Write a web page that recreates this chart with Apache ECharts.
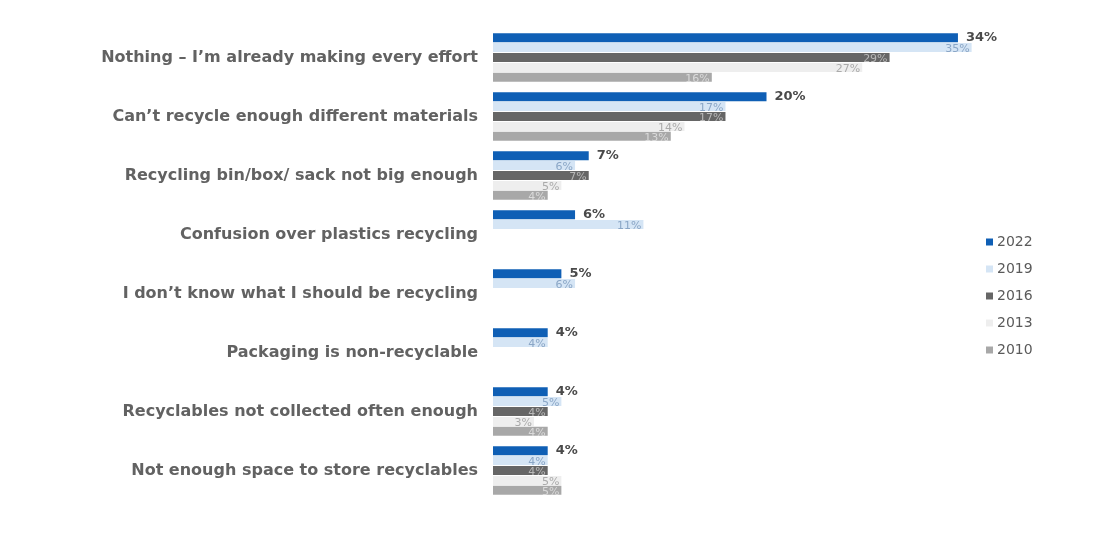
<!DOCTYPE html>
<html>
<head>
<meta charset="utf-8">
<script src="https://cdn.jsdelivr.net/npm/echarts@6/dist/echarts.min.js"></script>
<style>
html,body{margin:0;padding:0;background:#fff;}
#chart{width:1109px;height:540px;}
</style>
</head>
<body>
<div id="chart"></div>
<script>
const categories = [
  "Nothing – I’m already making every effort",
  "Can’t recycle enough different materials",
  "Recycling bin/box/ sack not big enough",
  "Confusion over plastics recycling",
  "I don’t know what I should be recycling",
  "Packaging is non-recyclable",
  "Recyclables not collected often enough",
  "Not enough space to store recyclables"
];
const years = ["2022", "2019", "2016", "2013", "2010"];
const v2022 = [34, 20, 7, 6, 5, 4, 4, 4];
const v2019 = [35, 17, 6, 11, 6, 4, 5, 4];
const v2016 = [29, 17, 7, null, null, null, 4, 4];
const v2013 = [27, 14, 5, null, null, null, 3, 5];
const v2010 = [16, 13, 4, null, null, null, 4, 5];

const values = [v2022, v2019, v2016, v2013, v2010];
const colors = ["#0F5FB5", "#D5E5F5", "#666666", "#EEEEEE", "#A8A8A8"];
const innerLabelColors = [null, "#8AA6C6", "#B8B8B8", "#AAAAAA", "#DADADA"];

const series = years.map((y, i) => ({
  name: y,
  type: "bar",
  data: values[i],
  barWidth: 9,
  barGap: "10%",
  itemStyle: { color: colors[i] },
  label: i === 0 ? {
    show: true,
    position: "right",
    distance: 8,
    formatter: "{c}%",
    fontFamily: "DejaVu Sans",
    fontWeight: "bold",
    fontSize: 13,
    color: "#4a4a4a"
  } : {
    show: true,
    position: "insideRight",
    distance: 2,
    offset: [0, 2],
    formatter: "{c}%",
    fontFamily: "DejaVu Sans",
    fontSize: 11,
    color: innerLabelColors[i]
  }
}));

const chart = echarts.init(document.getElementById("chart"));
chart.setOption({
  animation: false,
  backgroundColor: "#ffffff",
  grid: { left: 493, right: 69, top: 28, bottom: 40 },
  legend: {
    orient: "vertical",
    left: 981,
    top: 230,
    itemGap: 13,
    itemWidth: 7,
    itemHeight: 7,
    icon: "rect",
    data: years,
    textStyle: { fontFamily: "DejaVu Sans", fontSize: 14, color: "#5a5a5a", padding: [0, 0, 0, -1] }
  },
  xAxis: {
    type: "value",
    min: 0,
    max: 40,
    show: false
  },
  yAxis: {
    type: "category",
    data: categories,
    inverse: true,
    axisLine: { show: false },
    axisTick: { show: false },
    axisLabel: {
      margin: 15,
      fontFamily: "DejaVu Sans",
      fontWeight: "bold",
      fontSize: 16,
      color: "#626262"
    }
  },
  series: series
});
</script>
</body>
</html>
